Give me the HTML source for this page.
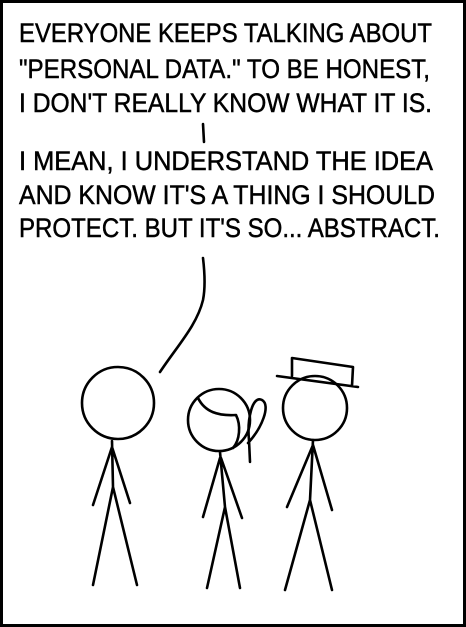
<!DOCTYPE html>
<html><head><meta charset="utf-8"><style>
html,body{margin:0;padding:0;background:#fff;}
svg{display:block;}
text{font-family:"Liberation Sans",sans-serif;font-size:27px;fill:#000;stroke:#000;stroke-width:0.5px;}
</style></head><body>
<svg width="466" height="627" viewBox="0 0 466 627" xmlns="http://www.w3.org/2000/svg">
<rect x="1.5" y="1.5" width="463" height="624" fill="#fff" stroke="#000" stroke-width="3"/>
<g>
<text x="19" y="42" textLength="413" lengthAdjust="spacingAndGlyphs">EVERYONE KEEPS TALKING ABOUT</text>
<text x="19" y="78" textLength="411" lengthAdjust="spacingAndGlyphs">"PERSONAL DATA." TO BE HONEST,</text>
<text x="19" y="112" textLength="413" lengthAdjust="spacingAndGlyphs">I DON'T REALLY KNOW WHAT IT IS.</text>
<text x="19" y="170" textLength="414" lengthAdjust="spacingAndGlyphs">I MEAN, I UNDERSTAND THE IDEA</text>
<text x="19" y="204" textLength="416" lengthAdjust="spacingAndGlyphs">AND KNOW IT'S A THING I SHOULD</text>
<text x="19" y="237" textLength="421" lengthAdjust="spacingAndGlyphs">PROTECT. BUT IT'S SO... ABSTRACT.</text>
</g>
<g fill="none" stroke="#000" stroke-width="2.6" stroke-linecap="round" stroke-linejoin="round">
<path d="M203 124 L204 142"/>
<path d="M203 258 C205 275 205 290 203 300 C197 325 178 345 160 372"/>
<circle cx="118" cy="403" r="36"/>
<path d="M112 441 L113 487 M112 447 L93 505 M112 447 L130 503 M113 487 L93 585 M113 487 L137 585"/>
<circle cx="219" cy="420" r="31"/>
<path d="M198 398 C205 412 218 416 236 415 C241 425 240 440 233 448"/>
<path d="M248 443 C262 428 271 405 262 400 C252 395 247 420 249 440 L250 462"/>
<path d="M220 452 L225 507 M220 458 L203 517 M221 458 L242 518 M225 507 L207 588 M225 507 L240 588"/>
<circle cx="315" cy="408" r="32"/>
<path d="M277 376 L358 387 M292 376 L292 358 L353 367 L352 386"/>
<path d="M313 440 L310 500 M313 445 L287 507 M313 445 L332 510 M310 500 L285 590 M310 500 L332 590"/>
</g>
</svg>
</body></html>
